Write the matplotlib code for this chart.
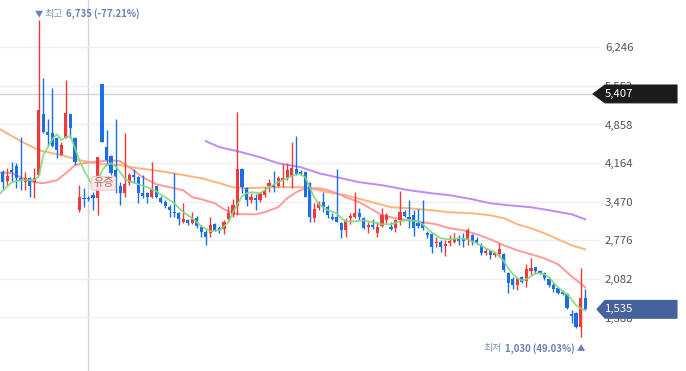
import numpy as np
import matplotlib.pyplot as plt
from matplotlib.patches import Polygon

plt.rcParams["font.family"] = ["Noto Sans CJK KR", "DejaVu Sans"]

# ---------------------------------------------------------------
# 일봉 데이터
# ---------------------------------------------------------------
opens = [4000, 3838, 4036, 4108, 3892, 3820, 3892, 3820, 3946, 5044,
         4720, 4702, 4612, 4306, 4612, 5044, 4612, 3316, 3532, 3532,
         3586, 3532, 5584, 4450, 4288, 4036, 3748, 3622, 3802, 3946,
         3910, 3622, 3622, 3550, 3748, 3532, 3460, 3370, 3280, 3262,
         3100, 3136, 3082, 3172, 3010, 2920, 2902, 3064, 2992, 2974,
         3154, 3226, 3388, 4054, 3712, 3496, 3532, 3496, 3586, 3748,
         3766, 3748, 3838, 3892, 3910, 4054, 4000, 4000, 3802, 3172,
         3352, 3460, 3370, 3190, 3190, 3082, 2956, 3172, 3190, 3262,
         3172, 3010, 3046, 2902, 3028, 3136, 3010, 2992, 3136, 3280,
         3190, 3226, 3082, 3100, 2902, 2884, 2722, 2740, 2668, 2722,
         2740, 2794, 2794, 2776, 2866, 2776, 2668, 2542, 2578, 2506,
         2524, 2524, 2182, 2074, 1966, 2110, 2038, 2218, 2290, 2218,
         2182, 2074, 1966, 1912, 1840, 1804, 1444, 1462, 1210, 1732]
highs = [4036, 4072, 4180, 4162, 4630, 4000, 3910, 4072, 6735, 5692,
         4954, 5512, 4630, 4540, 5656, 5044, 4630, 3766, 3712, 3568,
         3640, 4270, 5584, 4756, 4306, 4954, 3820, 4702, 3982, 4054,
         3928, 3946, 3640, 4180, 3748, 3568, 3496, 3406, 3982, 3280,
         3442, 3154, 3280, 3208, 3046, 2956, 3190, 3082, 3028, 3136,
         3388, 3514, 5080, 4072, 3730, 3622, 3604, 3640, 3730, 3874,
         4018, 3928, 4144, 4162, 4540, 4648, 4036, 4018, 3820, 3442,
         3478, 3640, 3406, 3262, 4054, 3100, 3172, 3262, 3640, 3352,
         3190, 3100, 3154, 3100, 3352, 3262, 3100, 3154, 3658, 3316,
         3496, 3316, 3334, 3496, 2938, 2902, 2830, 2776, 2776, 2866,
         2902, 2866, 2902, 2992, 2884, 2830, 2722, 2632, 2596, 2560,
         2722, 2542, 2200, 2110, 2110, 2128, 2344, 2452, 2290, 2236,
         2200, 2110, 2002, 1930, 1876, 1822, 1516, 1480, 2272, 1894]
lows = [3676, 3766, 3820, 3712, 3676, 3676, 3550, 3532, 3946, 4702,
        4468, 4450, 4252, 4306, 4612, 4612, 4126, 3280, 3370, 3478,
        3316, 3226, 4540, 4126, 3946, 3622, 3406, 3550, 3766, 3802,
        3442, 3532, 3442, 3532, 3532, 3442, 3352, 3190, 3190, 3046,
        3082, 3046, 3064, 2992, 2830, 2686, 2830, 2938, 2902, 2884,
        3136, 3190, 3226, 3622, 3388, 3442, 3316, 3460, 3550, 3640,
        3640, 3730, 3730, 3856, 3712, 3946, 3946, 3550, 3100, 3100,
        3316, 3280, 3172, 3136, 3100, 2812, 2830, 3064, 3172, 3136,
        2974, 2902, 2974, 2830, 3010, 3082, 2956, 2920, 3046, 3190,
        2992, 2848, 2992, 2956, 2812, 2542, 2650, 2560, 2488, 2668,
        2722, 2686, 2650, 2686, 2686, 2704, 2506, 2506, 2434, 2470,
        2470, 2200, 1822, 1894, 1876, 2002, 1930, 2146, 2164, 2164,
        2056, 1930, 1840, 1804, 1786, 1534, 1282, 1192, 1030, 1516]
closes = [3820, 3928, 4000, 3892, 3838, 3892, 3748, 3892, 5116, 4720,
          4666, 4468, 4396, 4486, 5062, 4792, 4180, 3550, 3514, 3514,
          3532, 4270, 4540, 4216, 3982, 3910, 3622, 3784, 3946, 3910,
          3622, 3568, 3550, 3694, 3550, 3460, 3388, 3316, 3262, 3154,
          3154, 3082, 3154, 3028, 2920, 2830, 3046, 2956, 2956, 3100,
          3262, 3406, 4054, 3730, 3496, 3550, 3496, 3622, 3658, 3802,
          3730, 3892, 3892, 4036, 4072, 3964, 3964, 3550, 3190, 3334,
          3442, 3370, 3226, 3154, 3100, 2956, 3118, 3208, 3262, 3190,
          2992, 3046, 3010, 3010, 3226, 3226, 2974, 3136, 3280, 3208,
          3154, 2992, 3028, 2992, 2866, 2650, 2740, 2650, 2704, 2758,
          2794, 2758, 2758, 2956, 2740, 2740, 2542, 2578, 2506, 2542,
          2614, 2236, 2002, 1966, 2092, 2020, 2254, 2272, 2218, 2182,
          2092, 1966, 1894, 1822, 1804, 1552, 1408, 1210, 1732, 1535]

# 이동평균선 (차트에서 읽은 점)
ma5_idx = [-1, 2, 4, 7, 8, 9, 10, 11, 12, 13, 14, 15, 16, 17, 18, 19, 20, 21, 22, 23,
           24, 25, 26, 27, 28, 30, 32, 34, 36, 38, 40, 42, 44, 46, 48, 49, 50, 51, 52, 53,
           54, 55, 57, 59, 61, 63, 65, 66, 67, 68, 69, 70, 72, 74, 75, 76, 78, 80, 82, 84,
           86, 88, 90, 92, 93, 94, 95, 96, 97, 99, 101, 103, 105, 107, 109, 110, 111, 112,
           113, 114, 115, 116, 117, 118, 119, 120, 121, 122, 123, 124, 125, 126, 127, 128, 129]
ma5_val = [3586, 3820, 3856, 3856, 3928, 4306, 4450, 4594, 4684, 4576, 4630, 4648, 4432, 4216,
           4036, 3892, 3730, 3820, 4036, 4126, 4162, 4108, 4000, 3892, 3838, 3784, 3730, 3658,
           3550, 3442, 3280, 3172, 3028, 2938, 2956, 3028, 3100, 3280, 3424, 3568, 3622, 3640,
           3622, 3730, 3820, 3892, 3964, 3964, 3910, 3730, 3550, 3424, 3316, 3262, 3172, 3118,
           3118, 3136, 3100, 3064, 3064, 3118, 3136, 3118, 3064, 2992, 2920, 2866, 2812, 2794,
           2812, 2794, 2722, 2632, 2560, 2488, 2398, 2272, 2164, 2092, 2056, 2074, 2128, 2182,
           2182, 2164, 2110, 2020, 1930, 1858, 1804, 1714, 1606, 1552, 1516]
ma20_idx = [-1, 2, 4, 7, 9, 12, 14, 16, 18, 22, 24, 26, 28, 31, 34, 37, 40, 42, 44, 47,
            49, 51, 53, 56, 58, 61, 63, 65, 67, 70, 72, 74, 76, 79, 81, 84, 87, 90, 93, 96,
            99, 102, 105, 108, 111, 114, 117, 120, 123, 126, 128, 129]
ma20_val = [4000, 3982, 3910, 3820, 3802, 3856, 3982, 4126, 4162, 4198, 4216, 4198, 4090,
            3910, 3784, 3730, 3676, 3550, 3514, 3442, 3334, 3262, 3244, 3244, 3280, 3370,
            3532, 3640, 3712, 3712, 3676, 3622, 3550, 3460, 3370, 3226, 3172, 3136, 3100,
            3064, 2992, 2956, 2884, 2794, 2686, 2596, 2524, 2452, 2344, 2128, 2002, 1930]
ma60_idx = [-1, 4, 8, 13, 17, 22, 26, 30, 35, 39, 44, 48, 51, 54, 59, 63, 67, 72, 76, 81,
            86, 90, 95, 99, 104, 108, 111, 114, 117, 120, 123, 126, 129]
ma60_val = [4792, 4558, 4396, 4306, 4216, 4144, 4126, 4072, 4018, 3964, 3892, 3802, 3730,
            3712, 3730, 3730, 3730, 3640, 3586, 3478, 3370, 3352, 3316, 3280, 3262, 3226,
            3172, 3064, 2992, 2902, 2794, 2686, 2614]
ma120_idx = [45, 48, 52, 57, 61, 66, 70, 75, 79, 84, 90, 95, 99, 104, 108, 112, 117, 121, 126, 129]
ma120_val = [4558, 4450, 4378, 4270, 4162, 4090, 3982, 3892, 3820, 3766, 3676, 3622, 3586,
             3514, 3442, 3406, 3370, 3316, 3244, 3154]

TICKS = [6246, 5552, 4858, 4164, 3470, 2776, 2082, 1388]
HIGH_IDX, HIGH_VAL, HIGH_PCT = 8, 6735, "-77.21%"
LOW_IDX, LOW_VAL, LOW_PCT = 128, 1030, "49.03%"
CROSS_IDX, CROSS_PRICE = 19, 5407
LAST_PRICE = 1535
EVENT_IDX, EVENT_PRICE, EVENT_LABEL = 22.3, 3800, "유증"

RED = "#f0393c"
BLUE = "#1a6fe6"
LABEL_BLUE = "#6d7fb6"

fig = plt.figure(figsize=(6.86, 3.71), dpi=100)
ax = fig.add_axes([0, 0, 600 / 686, 1])
ax.set_xlim(-0.6, 132.3)
ax.set_ylim(426, 7096)

# 격자 / 축
ax.set_yticks(TICKS)
ax.set_yticklabels([f"{t:,}" for t in TICKS])
ax.yaxis.tick_right()
ax.tick_params(axis="y", length=0, pad=3.6, labelsize=8.2, labelcolor="#555555")
ax.set_xticks([])
ax.grid(axis="y", color="#efefef", lw=1, zorder=0)
for s in ax.spines.values():
    s.set_visible(False)

# 크로스헤어
ax.axvline(CROSS_IDX, color="#cfd5de", lw=1, zorder=1)
ax.axhline(CROSS_PRICE, xmin=0, xmax=593 / 600, color="#cfd5de", lw=1, zorder=1)

# 이동평균선
ax.plot(ma120_idx, ma120_val, color="#c08af5", lw=1.4, zorder=2)
ax.plot(ma60_idx, ma60_val, color="#ffb47c", lw=1.4, zorder=2)
ax.plot(ma20_idx, ma20_val, color="#ff9a9a", lw=1.4, zorder=2)

# 캔들
x = np.arange(len(closes))
o, h, l, c = (np.array(a, dtype=float) for a in (opens, highs, lows, closes))
cols = np.where(c >= o, RED, BLUE)
ax.vlines(x, l, h, colors=cols, lw=1, zorder=3)
ax.bar(x, np.maximum(np.abs(c - o), 25), bottom=np.minimum(o, c), width=0.7,
       color=cols, linewidth=0, zorder=4)

ax.plot(ma5_idx, ma5_val, color="#7fdc7a", lw=1.3, zorder=5, alpha=0.9)

# 최고 / 최저 표시
ax.annotate("▼", xy=(HIGH_IDX, HIGH_VAL), xytext=(0, 4.7), textcoords="offset points",
            ha="center", va="center", fontsize=6, color=LABEL_BLUE)
ax.annotate("최고", xy=(HIGH_IDX, HIGH_VAL), xytext=(4.3, 4.7), textcoords="offset points",
            ha="left", va="center", fontsize=7.2, color="#8494c4")
ax.annotate(f"{HIGH_VAL:,} ({HIGH_PCT})", xy=(HIGH_IDX, HIGH_VAL), xytext=(19.4, 4.7),
            textcoords="offset points", ha="left", va="center", fontsize=6.9,
            fontweight="bold", color=LABEL_BLUE)
ax.annotate("▲", xy=(LOW_IDX, LOW_VAL), xytext=(0, -7.9), textcoords="offset points",
            ha="center", va="center", fontsize=6, color=LABEL_BLUE)
ax.annotate(f"{LOW_VAL:,} ({LOW_PCT})", xy=(LOW_IDX, LOW_VAL), xytext=(-4.3, -7.9),
            textcoords="offset points", ha="right", va="center", fontsize=6.9,
            fontweight="bold", color=LABEL_BLUE)
ax.annotate("최저", xy=(LOW_IDX, LOW_VAL), xytext=(-56.5, -7.9), textcoords="offset points",
            ha="right", va="center", fontsize=7.2, color="#8494c4")

# 이벤트 라벨
ax.text(EVENT_IDX, EVENT_PRICE, EVENT_LABEL, ha="center", va="center", fontsize=8,
        color="#b86a66", zorder=6,
        bbox=dict(boxstyle="round,pad=0.18", fc="#fbe8e8", ec="#efcaca", lw=0.8, alpha=0.9))

# 오른쪽 가격 라벨
tr = ax.get_yaxis_transform()
hh = 160


def price_tag(price, color, tip):
    pts = [(tip, price), (605 / 600, price + hh), (677 / 600, price + hh),
           (677 / 600, price - hh), (605 / 600, price - hh)]
    ax.add_patch(Polygon(pts, closed=True, transform=tr, fc=color, ec=color,
                         lw=0.8, joinstyle="round", clip_on=False, zorder=7))
    ax.text(605 / 600, price, f"{price:,}", transform=tr, ha="left", va="center",
            fontsize=8.2, color="white", zorder=8, clip_on=False)


price_tag(CROSS_PRICE, "#1b1b1b", 593 / 600)
price_tag(LAST_PRICE, "#46629c", 597 / 600)

fig.savefig("out.png", dpi=100, facecolor="white")
